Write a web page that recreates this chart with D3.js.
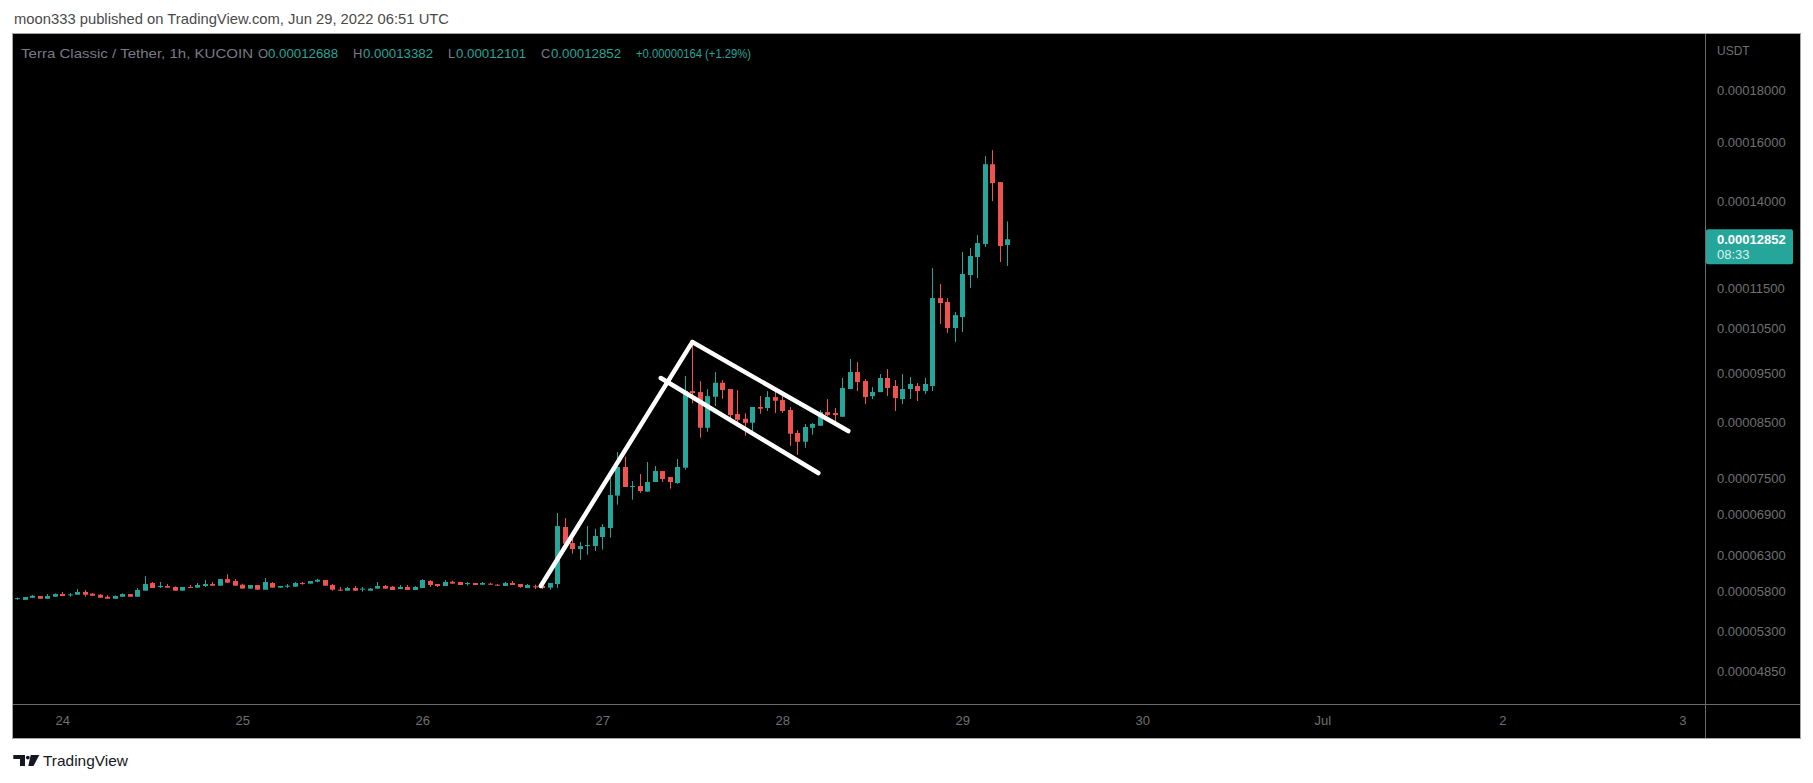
<!DOCTYPE html>
<html><head><meta charset="utf-8">
<script src="https://cdn.jsdelivr.net/npm/d3@7"></script>
<style>
body{margin:0;background:#fff;}
svg{display:block;font-family:"Liberation Sans",Arial,sans-serif;}
</style>
</head><body>
<svg id="c" width="1813" height="783"></svg>
<script>
// ---- data ----
const firstCandleUTC = [2022, 5, 23, 18]; // Jun 23 18:00 UTC, 1h candles
const opens = [5709e-8,5695e-8,5722e-8,5744e-8,5709e-8,5735e-8,5770e-8,5753e-8,5761e-8,5797e-8,5775e-8,5761e-8,5735e-8,5709e-8,5735e-8,5770e-8,5735e-8,5814e-8,5915e-8,5867e-8,5876e-8,5863e-8,5814e-8,5863e-8,5854e-8,5876e-8,5902e-8,5880e-8,5968e-8,5942e-8,5893e-8,5841e-8,5889e-8,5827e-8,5915e-8,5854e-8,5871e-8,5867e-8,5915e-8,5907e-8,5933e-8,5955e-8,5889e-8,5827e-8,5814e-8,5849e-8,5832e-8,5814e-8,5841e-8,5876e-8,5867e-8,5836e-8,5863e-8,5823e-8,5849e-8,5942e-8,5902e-8,5876e-8,5933e-8,5929e-8,5907e-8,5915e-8,5893e-8,5907e-8,5893e-8,5876e-8,5915e-8,5902e-8,5849e-8,5871e-8,5876e-8,5854e-8,5902e-8,6712e-8,6474e-8,6387e-8,6430e-8,6430e-8,6563e-8,6697e-8,7205e-8,7686e-8,7347e-8,7363e-8,7270e-8,7430e-8,7617e-8,7514e-8,7413e-8,7674e-8,9123e-8,9102e-8,8398e-8,9006e-8,9296e-8,9165e-8,8662e-8,8570e-8,8494e-8,8801e-8,8781e-8,9000e-8,8940e-8,8741e-8,8300e-8,8137e-8,8398e-8,8436e-8,8701e-8,8681e-8,8609e-8,9165e-8,9523e-8,9332e-8,9020e-8,9102e-8,9396e-8,9228e-8,8960e-8,9165e-8,9228e-8,9123e-8,9228e-8,11254e-8,11153e-8,10517e-8,10782e-8,11855e-8,12346e-8,12713e-8,15223e-8,14620e-8,12688e-8];
const highs = [5726e-8,5731e-8,5757e-8,5744e-8,5770e-8,5779e-8,5797e-8,5783e-8,5836e-8,5823e-8,5783e-8,5770e-8,5757e-8,5753e-8,5779e-8,5770e-8,5849e-8,6008e-8,5929e-8,5929e-8,5902e-8,5871e-8,5863e-8,5889e-8,5915e-8,5955e-8,5929e-8,5968e-8,6034e-8,5968e-8,5907e-8,5889e-8,5889e-8,5981e-8,5929e-8,5876e-8,5902e-8,5929e-8,5929e-8,5942e-8,5973e-8,5955e-8,5902e-8,5863e-8,5863e-8,5876e-8,5863e-8,5849e-8,5929e-8,5889e-8,5876e-8,5889e-8,5889e-8,5876e-8,5968e-8,5955e-8,5902e-8,5955e-8,5946e-8,5929e-8,5929e-8,5915e-8,5929e-8,5920e-8,5902e-8,5929e-8,5942e-8,5902e-8,5902e-8,5893e-8,5876e-8,5915e-8,6928e-8,6850e-8,6558e-8,6489e-8,6727e-8,6687e-8,6758e-8,7503e-8,7950e-8,7867e-8,7446e-8,7565e-8,7773e-8,7703e-8,7617e-8,7514e-8,7826e-8,9438e-8,10159e-8,9332e-8,9165e-8,9523e-8,9353e-8,9165e-8,9144e-8,8681e-8,8801e-8,9020e-8,9123e-8,9117e-8,9110e-8,8801e-8,8355e-8,8470e-8,8490e-8,8741e-8,8960e-8,8781e-8,9396e-8,9807e-8,9740e-8,9374e-8,9207e-8,9480e-8,9588e-8,9353e-8,9480e-8,9417e-8,9290e-8,9396e-8,12043e-8,11617e-8,11254e-8,10905e-8,12486e-8,12600e-8,12973e-8,15503e-8,15715e-8,14620e-8,13382e-8];
const lows = [5695e-8,5695e-8,5722e-8,5709e-8,5709e-8,5735e-8,5744e-8,5735e-8,5761e-8,5735e-8,5748e-8,5722e-8,5709e-8,5709e-8,5735e-8,5735e-8,5735e-8,5814e-8,5849e-8,5849e-8,5854e-8,5814e-8,5814e-8,5854e-8,5854e-8,5863e-8,5880e-8,5880e-8,5920e-8,5880e-8,5841e-8,5841e-8,5827e-8,5827e-8,5854e-8,5854e-8,5849e-8,5867e-8,5893e-8,5907e-8,5924e-8,5880e-8,5814e-8,5814e-8,5814e-8,5814e-8,5801e-8,5814e-8,5841e-8,5841e-8,5823e-8,5836e-8,5823e-8,5823e-8,5849e-8,5863e-8,5863e-8,5876e-8,5907e-8,5889e-8,5880e-8,5889e-8,5893e-8,5893e-8,5880e-8,5876e-8,5889e-8,5854e-8,5849e-8,5836e-8,5836e-8,5827e-8,5849e-8,6377e-8,6320e-8,6235e-8,6305e-8,6359e-8,6377e-8,6552e-8,7059e-8,7347e-8,7139e-8,7250e-8,7270e-8,7430e-8,7430e-8,7320e-8,7400e-8,7640e-8,8873e-8,8210e-8,8322e-8,8820e-8,8966e-8,8500e-8,8480e-8,8249e-8,8322e-8,8668e-8,8722e-8,8681e-8,8688e-8,8062e-8,7902e-8,8027e-8,8268e-8,8436e-8,8622e-8,8470e-8,8609e-8,9165e-8,9123e-8,8860e-8,8960e-8,9102e-8,9020e-8,8722e-8,8860e-8,8960e-8,8920e-8,9061e-8,9123e-8,10613e-8,10400e-8,10190e-8,10423e-8,11512e-8,11774e-8,12627e-8,14007e-8,12206e-8,12101e-8];
const closes = [5717e-8,5731e-8,5748e-8,5709e-8,5744e-8,5770e-8,5744e-8,5766e-8,5797e-8,5761e-8,5748e-8,5722e-8,5709e-8,5744e-8,5770e-8,5735e-8,5823e-8,5902e-8,5849e-8,5876e-8,5854e-8,5814e-8,5863e-8,5854e-8,5889e-8,5902e-8,5880e-8,5968e-8,5920e-8,5880e-8,5841e-8,5889e-8,5827e-8,5929e-8,5854e-8,5876e-8,5880e-8,5915e-8,5907e-8,5942e-8,5959e-8,5880e-8,5827e-8,5819e-8,5849e-8,5814e-8,5841e-8,5841e-8,5876e-8,5841e-8,5823e-8,5863e-8,5823e-8,5863e-8,5955e-8,5889e-8,5876e-8,5929e-8,5907e-8,5889e-8,5915e-8,5889e-8,5915e-8,5893e-8,5880e-8,5915e-8,5889e-8,5863e-8,5889e-8,5863e-8,5849e-8,5915e-8,6727e-8,6464e-8,6387e-8,6430e-8,6445e-8,6577e-8,6712e-8,7215e-8,7686e-8,7347e-8,7363e-8,7280e-8,7430e-8,7617e-8,7480e-8,7430e-8,7686e-8,9123e-8,9082e-8,8398e-8,9020e-8,9296e-8,9144e-8,8642e-8,8551e-8,8494e-8,8801e-8,8767e-8,9000e-8,8926e-8,8722e-8,8286e-8,8137e-8,8412e-8,8470e-8,8701e-8,8642e-8,8642e-8,9186e-8,9523e-8,9310e-8,9000e-8,9102e-8,9396e-8,9186e-8,8980e-8,9165e-8,9270e-8,9123e-8,9270e-8,11254e-8,11128e-8,10517e-8,10830e-8,11882e-8,12374e-8,12742e-8,15223e-8,14588e-8,12655e-8,12852e-8];

const priceTicks = [18000e-8,16000e-8,14000e-8,11500e-8,10500e-8,9500e-8,8500e-8,7500e-8,6900e-8,6300e-8,5800e-8,5300e-8,4850e-8];
const dayTickLabels = ["24","25","26","27","28","29","30","Jul","2","3"];
// drawn trend lines: [hours after first candle, price]
const poleLine  = [[69.8, 5876e-8], [90.0, 10190e-8]];
const flagUpper = [[90.0, 10190e-8], [110.8, 8336e-8]];
const flagLower = [[85.8, 9396e-8], [106.8, 7582e-8]];

const lastPrice = 12852e-8;
const lastPriceCountdown = "08:33";
const publishedText = "moon333 published on TradingView.com, Jun 29, 2022 06:51 UTC";
const symbolTitle = "Terra Classic / Tether, 1h, KUCOIN";
const ohlcLabels = ["O","H","L","C"];
const ohlcValues = ["0.00012688","0.00013382","0.00012101","0.00012852"];
const changeText = "+0.00000164 (+1.29%)";

// ---- layout ----
const UP = "#26a69a", DOWN = "#ef5350";
const panel = {x0: 13, y0: 34, x1: 1800, y1: 738};
const plot = {x0: 13, y0: 34, x1: 1705, y1: 704};

const svg = d3.select("#c");
const t0 = new Date(Date.UTC(...firstCandleUTC));
const hour = 3600e3;
const x = d3.scaleUtc()
  .domain([t0, new Date(Date.UTC(2022, 6, 3))])
  .range([17.3, 1682.3]);
const y = d3.scaleLog().domain([18000e-8, 4850e-8]).range([90, 671]);

// top published text
svg.append("text").attr("x", 14).attr("y", 24)
  .attr("font-size", 15).attr("fill", "#4a4a4a")
  .attr("textLength", 435).attr("lengthAdjust", "spacingAndGlyphs")
  .text(publishedText);

// panel
svg.append("rect").attr("x", panel.x0 - 0.5).attr("y", panel.y0 - 0.5)
  .attr("width", panel.x1 - panel.x0 + 1).attr("height", panel.y1 - panel.y0 + 1)
  .attr("fill", "#000").attr("stroke", "#a3a3a8").attr("stroke-width", 1);
svg.append("line").attr("x1", plot.x1 + 0.5).attr("x2", plot.x1 + 0.5)
  .attr("y1", panel.y0).attr("y2", panel.y1).attr("stroke", "#6a6a6a");
svg.append("line").attr("x1", panel.x0).attr("x2", panel.x1)
  .attr("y1", plot.y1 + 0.5).attr("y2", plot.y1 + 0.5).attr("stroke", "#6a6a6a");

svg.append("defs").append("clipPath").attr("id", "plotclip")
  .append("rect").attr("x", plot.x0).attr("y", plot.y0)
  .attr("width", plot.x1 - plot.x0).attr("height", plot.y1 - plot.y0);

const g = svg.append("g").attr("clip-path", "url(#plotclip)");

const candles = opens.map((o, i) => ({
  t: new Date(t0.getTime() + i * hour), o, h: highs[i], l: lows[i], c: closes[i]
}));

// wicks
g.selectAll("line.wick").data(candles).join("line")
  .attr("class", "wick")
  .attr("x1", d => Math.round(x(d.t)) + 0.5).attr("x2", d => Math.round(x(d.t)) + 0.5)
  .attr("y1", d => y(d.h)).attr("y2", d => y(d.l))
  .attr("stroke", d => d.c >= d.o ? UP : DOWN).attr("stroke-width", 1);
// bodies
g.selectAll("rect.body").data(candles).join("rect")
  .attr("class", "body")
  .attr("x", d => Math.round(x(d.t)) - 2)
  .attr("width", 5)
  .attr("y", d => y(Math.max(d.o, d.c)))
  .attr("height", d => Math.max(1, y(Math.min(d.o, d.c)) - y(Math.max(d.o, d.c))))
  .attr("fill", d => d.c >= d.o ? UP : DOWN);

// trend lines
const lineGen = d3.line()
  .x(d => x(new Date(t0.getTime() + d[0] * hour)))
  .y(d => y(d[1]));
g.selectAll("path.trend").data([poleLine, flagUpper, flagLower]).join("path")
  .attr("class", "trend").attr("d", lineGen)
  .attr("fill", "none").attr("stroke", "#fff").attr("stroke-width", 4.5)
  .attr("stroke-linecap", "round");

// header legend
const hdr = svg.append("g").attr("font-size", 13);
hdr.append("text").attr("x", 21).attr("y", 58).attr("fill", "#787b86")
  .attr("textLength", 232).attr("lengthAdjust", "spacingAndGlyphs").text(symbolTitle);
const lblX = [258, 353, 448, 541];
const lblW = [10, 10, 8, 10];
ohlcLabels.forEach((l, i) => {
  hdr.append("text").attr("x", lblX[i]).attr("y", 58).attr("fill", "#787b86").text(l);
  hdr.append("text").attr("x", lblX[i] + lblW[i]).attr("y", 58).attr("fill", UP)
    .attr("textLength", 70).attr("lengthAdjust", "spacingAndGlyphs").text(ohlcValues[i]);
});
hdr.append("text").attr("x", 636).attr("y", 58).attr("fill", UP)
  .attr("textLength", 115).attr("lengthAdjust", "spacingAndGlyphs").text(changeText);

// price axis
const yAxis = svg.append("g").attr("transform", `translate(${plot.x1},0)`)
  .call(d3.axisRight(y).tickValues(priceTicks).tickFormat(d3.format(".8f")).tickSize(0).tickPadding(12));
yAxis.select(".domain").remove();
yAxis.selectAll("text").attr("fill", "#707070").attr("font-size", 13)
  .attr("font-family", "'Liberation Sans', Arial, sans-serif");
svg.append("text").attr("x", 1717).attr("y", 55).attr("font-size", 12)
  .attr("fill", "#707070").text("USDT");

// last price label
const ly = y(lastPrice);
svg.append("rect").attr("x", plot.x1 + 1).attr("y", ly - 10).attr("width", 87).attr("height", 35)
  .attr("rx", 2).attr("fill", UP);
svg.append("text").attr("x", 1717).attr("y", ly + 4.5).attr("font-size", 13)
  .attr("font-weight", "bold").attr("fill", "#fff").text(d3.format(".8f")(lastPrice));
svg.append("text").attr("x", 1717).attr("y", ly + 19.5).attr("font-size", 13)
  .attr("fill", "#dff3f1").text(lastPriceCountdown);

// time axis
const dayTicks = d3.utcDay.range(new Date(Date.UTC(2022, 5, 24)), new Date(Date.UTC(2022, 6, 3, 1)));
const xAxis = svg.append("g").attr("transform", `translate(0,${plot.y1})`)
  .call(d3.axisBottom(x).tickValues(dayTicks).tickFormat((d, i) => dayTickLabels[i]).tickSize(0).tickPadding(12));
xAxis.select(".domain").remove();
xAxis.selectAll("text").attr("fill", "#707070").attr("font-size", 13)
  .attr("font-family", "'Liberation Sans', Arial, sans-serif");

// TradingView logo
const logo = svg.append("g").attr("fill", "#131722");
logo.append("path").attr("d", "M13.3,755 H25 V766 H20 V759 H13.3 Z");
logo.append("circle").attr("cx", 27.8).attr("cy", 757.6).attr("r", 1.9);
logo.append("path").attr("d", "M30.7,755 H39.3 L33.5,766 H28.3 Z");
svg.append("text").attr("x", 43).attr("y", 766).attr("font-size", 15)
  .attr("fill", "#131722").attr("textLength", 85).attr("lengthAdjust", "spacingAndGlyphs")
  .text("TradingView");
</script>
</body></html>
